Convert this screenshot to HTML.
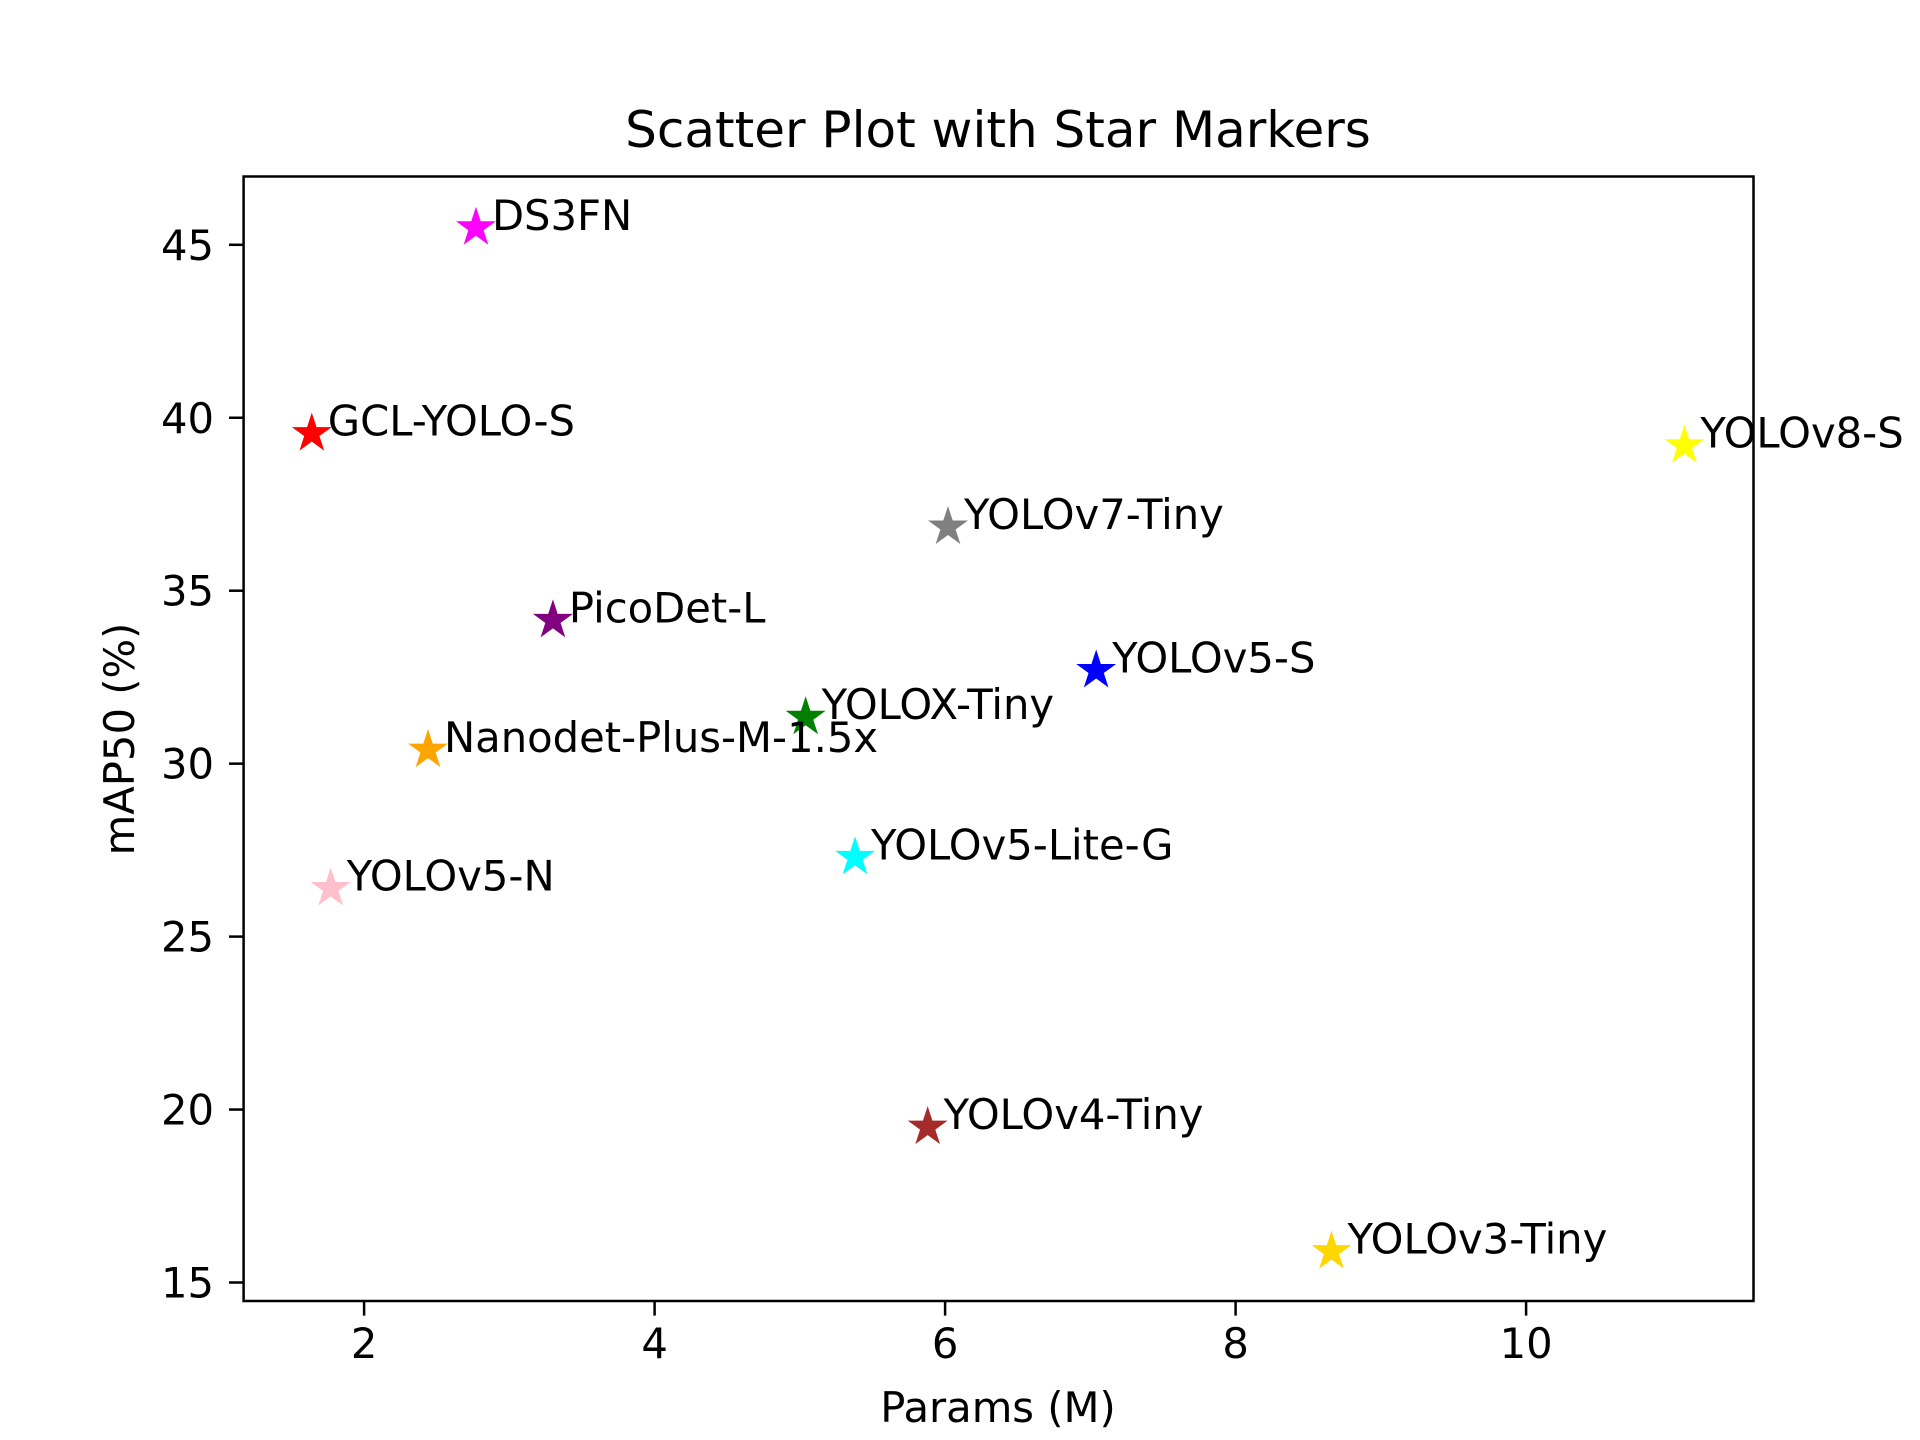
<!DOCTYPE html>
<html><head><meta charset="utf-8"><style>
html,body{margin:0;padding:0;background:#fff;}
svg{display:block;font-family:"DejaVu Sans","Liberation Sans",sans-serif;}
</style></head><body>
<svg id="chart" width="1920" height="1440" viewBox="0 0 1920 1440">
<rect x="0" y="0" width="1920" height="1440" fill="#fff"/>
<text x="998" y="147" font-size="50" text-anchor="middle">Scatter Plot with Star Markers</text>
<g id="marks"></g>
<rect x="243.6" y="176.5" width="1509.9" height="1124.5" fill="none" stroke="#000" stroke-width="2.5"/>
<g id="axes"></g>
<text x="998" y="1422" font-size="41.7" text-anchor="middle">Params (M)</text>
<text transform="translate(134,739) rotate(-90)" font-size="41.7" text-anchor="middle">mAP50 (%)</text>
</svg>
<script>
const models = ["DS3FN","GCL-YOLO-S","YOLOv8-S","YOLOv7-Tiny","PicoDet-L","YOLOv5-S","YOLOX-Tiny","Nanodet-Plus-M-1.5x","YOLOv5-N","YOLOv5-Lite-G","YOLOv4-Tiny","YOLOv3-Tiny"];
const params = [2.77,1.64,11.09,6.02,3.30,7.04,5.04,2.44,1.77,5.38,5.88,8.66];
const map50 = [45.55,39.6,39.25,36.9,34.2,32.75,31.4,30.45,26.45,27.35,19.55,15.95];
const colors = ["magenta","red","yellow","gray","purple","blue","green","orange","pink","cyan","brown","gold"];
const xTicks = [2,4,6,8,10];
const yTicks = [15,20,25,30,35,40,45];

const NS = "http://www.w3.org/2000/svg";
function xs(v){ return 364.1 + (v-2)*145.25; }
function ys(v){ return 1282.5 - (v-15)*34.59; }
function starPath(cx,cy,R){
  const r = R*0.382; let d="";
  for(let i=0;i<10;i++){
    const a = -Math.PI/2 + i*Math.PI/5;
    const rr = i%2===0?R:r;
    d += (i===0?"M":"L") + (cx+rr*Math.cos(a)).toFixed(2)+","+(cy+rr*Math.sin(a)).toFixed(2);
  }
  return d+"Z";
}
const marks = document.getElementById("marks");
for(let i=0;i<models.length;i++){
  const cx = xs(params[i]), cy = ys(map50[i]);
  const p = document.createElementNS(NS,"path");
  p.setAttribute("d", starPath(cx,cy+2,21));
  p.setAttribute("fill", colors[i]);
  
  
  marks.appendChild(p);
  const t = document.createElementNS(NS,"text");
  t.setAttribute("x", cx+16);
  t.setAttribute("y", cy+4);
  t.setAttribute("font-size","41.7");
  t.textContent = models[i];
  
  
  marks.appendChild(t);
}
const axes = document.getElementById("axes");
for(const v of xTicks){
  const x = xs(v);
  const l = document.createElementNS(NS,"line");
  l.setAttribute("x1",x); l.setAttribute("x2",x);
  l.setAttribute("y1",1301); l.setAttribute("y2",1315.6);
  l.setAttribute("stroke","#000"); l.setAttribute("stroke-width","2.5");
  
  
  axes.appendChild(l);
  const t = document.createElementNS(NS,"text");
  t.setAttribute("x",x); t.setAttribute("y",1358);
  t.setAttribute("font-size","41.7"); t.setAttribute("text-anchor","middle");
  t.textContent = v;
  
  
  axes.appendChild(t);
}
for(const v of yTicks){
  const y = ys(v);
  const l = document.createElementNS(NS,"line");
  l.setAttribute("x1",229); l.setAttribute("x2",243.6);
  l.setAttribute("y1",y); l.setAttribute("y2",y);
  l.setAttribute("stroke","#000"); l.setAttribute("stroke-width","2.5");
  
  
  axes.appendChild(l);
  const t = document.createElementNS(NS,"text");
  t.setAttribute("x",214); t.setAttribute("y",y+15);
  t.setAttribute("font-size","41.7"); t.setAttribute("text-anchor","end");
  t.textContent = v;
  
  
  axes.appendChild(t);
}
</script>
</body></html>
